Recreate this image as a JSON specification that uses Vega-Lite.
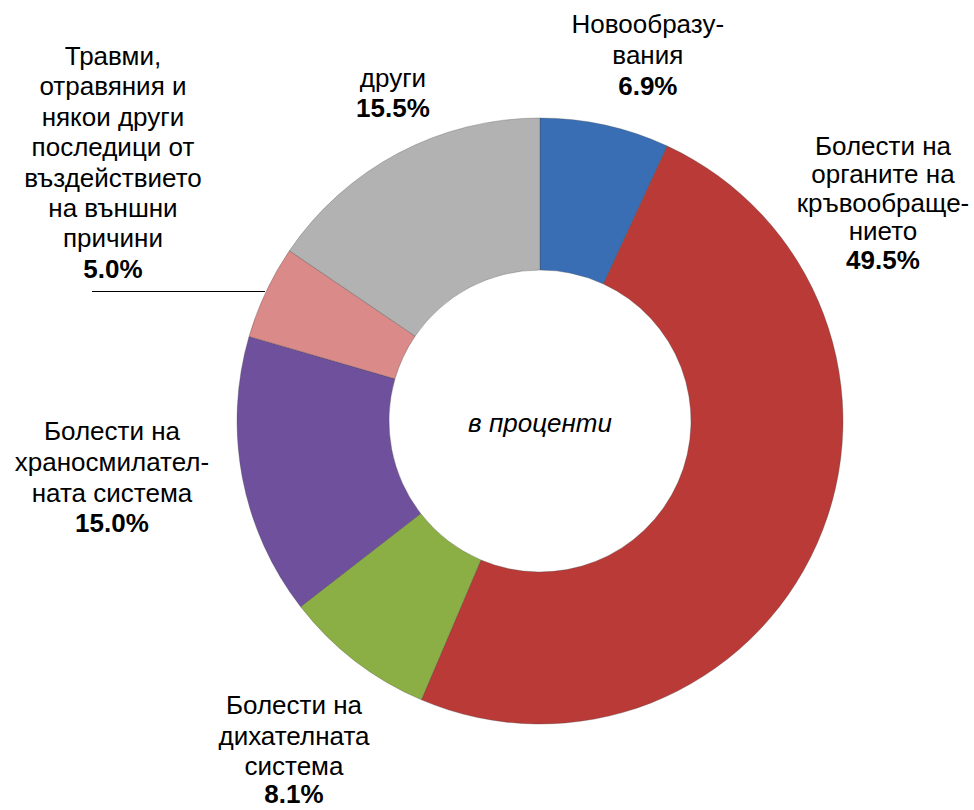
{
  "$schema": "https://vega.github.io/schema/vega-lite/v6.json",
  "width": 868,
  "height": 778,
  "padding": {"left": 106, "top": 32, "right": 0, "bottom": 0},
  "autosize": {"type": "none"},
  "background": "white",
  "config": {"view": {"stroke": null}, "text": {"font": "Liberation Sans"}},
  "layer": [
    {
      "data": {"values": [{"t": "в проценти"}]},
      "mark": {"type": "text", "font": "Liberation Sans", "fontSize": 26, "fontStyle": "italic", "baseline": "middle", "align": "center", "dy": 3, "color": "#000000"},
      "encoding": {"text": {"field": "t", "type": "nominal"}}
    },
    {
      "data": {"values": [{"t": "leader"}]},
      "mark": {"type": "point", "shape": "M-4.48,-1.295H-2.75", "filled": false, "strokeWidth": 1, "color": "#000000", "opacity": 1},
      "encoding": {"size": {"value": 40000}}
    },
    {
      "data": {"values": [
        {"k": "c1", "cause": "Новообразувания", "name": "Новообразу-\nвания", "pct": "6.9%", "value": 6.9, "order": 1},
        {"k": "c2", "cause": "Болести на органите на кръвообращението", "name": "Болести на\nорганите на\nкръвообраще-\nнието", "pct": "49.5%", "value": 49.5, "order": 2},
        {"k": "c3", "cause": "Болести на дихателната система", "name": "Болести на\nдихателната\nсистема", "pct": "8.1%", "value": 8.1, "order": 3},
        {"k": "c4", "cause": "Болести на храносмилателната система", "name": "Болести на\nхраносмилател-\nната система", "pct": "15.0%", "value": 15.0, "order": 4},
        {"k": "c5", "cause": "Травми, отравяния и някои други последици от въздействието на външни причини", "name": "Травми,\nотравяния и\nнякои други\nпоследици от\nвъздействието\nна външни\nпричини", "pct": "5.0%", "value": 5.0, "order": 5},
        {"k": "c6", "cause": "други", "name": "други", "pct": "15.5%", "value": 15.5, "order": 6}
      ]},
      "encoding": {
        "theta": {"field": "value", "type": "quantitative", "stack": true},
        "order": {"field": "order", "type": "quantitative"},
        "detail": {"field": "k", "type": "nominal"}
      },
      "layer": [
        {
          "mark": {"type": "arc", "outerRadius": 303, "innerRadius": 151, "stroke": "#3a3a3a", "strokeOpacity": 0.3, "strokeWidth": 1},
          "encoding": {
            "color": {"field": "k", "type": "nominal", "legend": null,
              "scale": {"domain": ["c1", "c2", "c3", "c4", "c5", "c6"], "range": ["#3A6EB4", "#B93A36", "#8BAF45", "#6F509C", "#D98A89", "#B2B2B2"]}}
          }
        },
        {"mark": {"type": "text", "fontSize": 26, "lineHeight": 31, "lineBreak": "\n", "align": "center", "baseline": "alphabetic", "dx": 39, "dy": -75.5, "color": "#000000"},
         "encoding": {"radius": {"value": 320}, "text": {"condition": {"test": "datum.k === 'c1'", "field": "name", "type": "nominal"}, "value": ""}}},
        {"mark": {"type": "text", "fontSize": 26, "fontWeight": "bold", "align": "center", "baseline": "alphabetic", "dx": 39, "dy": -13.5, "color": "#000000"},
         "encoding": {"radius": {"value": 320}, "text": {"condition": {"test": "datum.k === 'c1'", "field": "pct", "type": "nominal"}, "value": ""}}},
        {"mark": {"type": "text", "fontSize": 26, "lineHeight": 28.5, "lineBreak": "\n", "align": "center", "baseline": "alphabetic", "dx": 50.5, "dy": -396, "color": "#000000"},
         "encoding": {"radius": {"value": 320}, "text": {"condition": {"test": "datum.k === 'c2'", "field": "name", "type": "nominal"}, "value": ""}}},
        {"mark": {"type": "text", "fontSize": 26, "fontWeight": "bold", "align": "center", "baseline": "alphabetic", "dx": 50.5, "dy": -282, "color": "#000000"},
         "encoding": {"radius": {"value": 320}, "text": {"condition": {"test": "datum.k === 'c2'", "field": "pct", "type": "nominal"}, "value": ""}}},
        {"mark": {"type": "text", "fontSize": 26, "lineHeight": 30.5, "lineBreak": "\n", "align": "center", "baseline": "alphabetic", "dx": -50.7, "dy": 40, "color": "#000000"},
         "encoding": {"radius": {"value": 320}, "text": {"condition": {"test": "datum.k === 'c3'", "field": "name", "type": "nominal"}, "value": ""}}},
        {"mark": {"type": "text", "fontSize": 26, "fontWeight": "bold", "align": "center", "baseline": "alphabetic", "dx": -50.7, "dy": 128.5, "color": "#000000"},
         "encoding": {"radius": {"value": 320}, "text": {"condition": {"test": "datum.k === 'c3'", "field": "pct", "type": "nominal"}, "value": ""}}},
        {"mark": {"type": "text", "fontSize": 26, "lineHeight": 31, "lineBreak": "\n", "align": "center", "baseline": "alphabetic", "dx": -113.7, "dy": -41, "color": "#000000"},
         "encoding": {"radius": {"value": 320}, "text": {"condition": {"test": "datum.k === 'c4'", "field": "name", "type": "nominal"}, "value": ""}}},
        {"mark": {"type": "text", "fontSize": 26, "fontWeight": "bold", "align": "center", "baseline": "alphabetic", "dx": -113.7, "dy": 51, "color": "#000000"},
         "encoding": {"radius": {"value": 320}, "text": {"condition": {"test": "datum.k === 'c4'", "field": "pct", "type": "nominal"}, "value": ""}}},
        {"mark": {"type": "text", "fontSize": 26, "lineHeight": 30.4, "lineBreak": "\n", "align": "center", "baseline": "alphabetic", "dx": -137.5, "dy": -219.7, "color": "#000000"},
         "encoding": {"radius": {"value": 320}, "text": {"condition": {"test": "datum.k === 'c5'", "field": "name", "type": "nominal"}, "value": ""}}},
        {"mark": {"type": "text", "fontSize": 26, "fontWeight": "bold", "align": "center", "baseline": "alphabetic", "dx": -137.5, "dy": -6.7, "color": "#000000"},
         "encoding": {"radius": {"value": 320}, "text": {"condition": {"test": "datum.k === 'c5'", "field": "pct", "type": "nominal"}, "value": ""}}},
        {"mark": {"type": "text", "fontSize": 26, "lineHeight": 30, "lineBreak": "\n", "align": "center", "baseline": "alphabetic", "dx": 2.7, "dy": -51.2, "color": "#000000"},
         "encoding": {"radius": {"value": 320}, "text": {"condition": {"test": "datum.k === 'c6'", "field": "name", "type": "nominal"}, "value": ""}}},
        {"mark": {"type": "text", "fontSize": 26, "fontWeight": "bold", "align": "center", "baseline": "alphabetic", "dx": 2.7, "dy": -21.2, "color": "#000000"},
         "encoding": {"radius": {"value": 320}, "text": {"condition": {"test": "datum.k === 'c6'", "field": "pct", "type": "nominal"}, "value": ""}}}
      ]
    }
  ]
}
